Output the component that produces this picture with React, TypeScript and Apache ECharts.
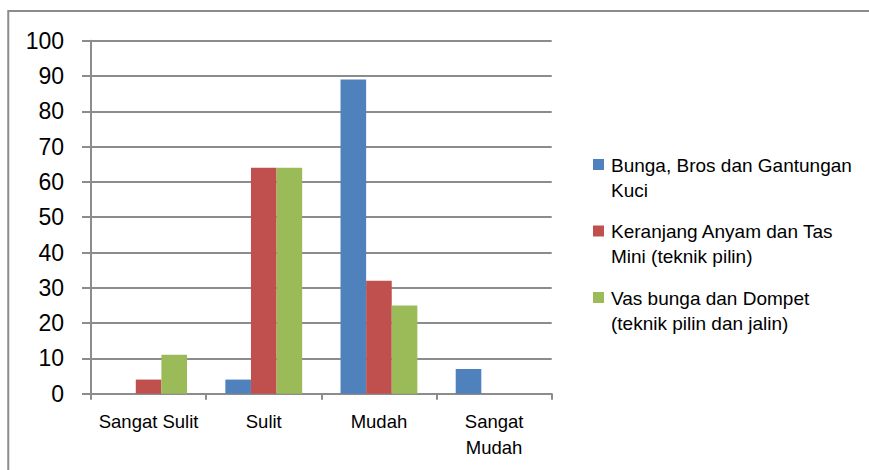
import React, { useEffect, useRef } from "react";
import * as echarts from "echarts";

const categories = ["Sangat Sulit", "Sulit", "Mudah", "Sangat\nMudah"];
const seriesNames = [
  "Bunga, Bros dan Gantungan\nKuci",
  "Keranjang Anyam dan Tas\nMini (teknik pilin)",
  "Vas bunga dan Dompet\n(teknik pilin dan jalin)",
];
const bungaValues = [0, 4, 89, 7];
const keranjangValues = [4, 64, 32, 0];
const vasValues = [11, 64, 25, 0];
const seriesColors = ["#4F81BD", "#C0504D", "#9BBB59"];
const yMin = 0;
const yMax = 100;
const yInterval = 10;

const FONT = "'Liberation Sans', Arial, sans-serif";

export default function App() {
  const ref = useRef<HTMLDivElement>(null);

  useEffect(() => {
    if (!ref.current) return;
    const chart = echarts.init(ref.current, undefined, { renderer: "svg" });
    const values = [bungaValues, keranjangValues, vasValues];
    const legendTop = 152.5;
    const legendStep = 66.5;

    const legendGraphics: any[] = [];
    seriesNames.forEach((name, i) => {
      const top = legendTop + i * legendStep;
      legendGraphics.push({
        type: "rect",
        shape: { x: 593, y: top + 6.5, width: 11, height: 11 },
        style: { fill: seriesColors[i] },
        silent: true,
      });
      legendGraphics.push({
        type: "text",
        x: 611,
        y: top,
        style: {
          text: name,
          font: `19px ${FONT}`,
          fill: "#000",
          lineHeight: 25,
          verticalAlign: "top",
          align: "left",
        },
        silent: true,
      });
    });

    chart.setOption({
      animation: false,
      backgroundColor: "#ffffff",
      textStyle: { fontFamily: FONT },
      grid: { left: 91, right: 317.3, top: 40.7, bottom: 76.3, containLabel: false },
      xAxis: {
        type: "category",
        data: categories,
        boundaryGap: true,
        axisLine: { show: true, lineStyle: { color: "#8c8c8c", width: 2 } },
        axisTick: { show: true, length: 6, lineStyle: { color: "#8c8c8c", width: 2 } },
        axisLabel: {
          color: "#000",
          fontSize: 18.5,
          fontFamily: FONT,
          margin: 15,
          lineHeight: 26,
          interval: 0,
        },
        splitLine: { show: false },
      },
      yAxis: {
        type: "value",
        min: yMin,
        max: yMax,
        interval: yInterval,
        axisLine: { show: true, lineStyle: { color: "#8c8c8c", width: 2 } },
        axisTick: { show: true, length: 9, lineStyle: { color: "#8c8c8c", width: 2 } },
        axisLabel: { color: "#000", fontSize: 23, fontFamily: FONT, margin: 27 },
        splitLine: { show: true, lineStyle: { color: "#8c8c8c", width: 2 } },
      },
      series: seriesNames.map((name, i) => ({
        name,
        type: "bar",
        data: values[i],
        barGap: "0%",
        barCategoryGap: "33.3%",
        itemStyle: { color: seriesColors[i] },
        emphasis: { disabled: true },
      })),
      graphic: [
        {
          type: "polyline",
          shape: { points: [[8.25, 470], [8.25, 11], [869, 11]] },
          style: { stroke: "#8c8c8c", lineWidth: 2, fill: "none" },
          silent: true,
        },
        ...legendGraphics,
      ],
    });

    return () => chart.dispose();
  }, []);

  return (
    <div
      ref={ref}
      style={{ position: "fixed", left: 0, top: 0, width: 869, height: 470, background: "#fff" }}
    />
  );
}
